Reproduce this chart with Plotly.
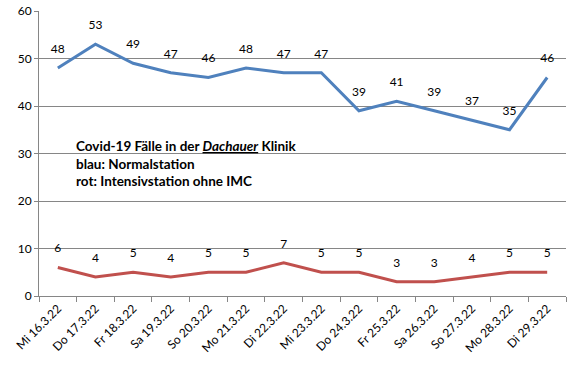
import plotly.graph_objects as go

dates = ["Mi 16.3.22", "Do 17.3.22", "Fr 18.3.22", "Sa 19.3.22", "So 20.3.22", "Mo 21.3.22",
         "Di 22.3.22", "Mi 23.3.22", "Do 24.3.22", "Fr 25.3.22", "Sa 26.3.22", "So 27.3.22",
         "Mo 28.3.22", "Di 29.3.22"]
normal = [48, 53, 49, 47, 46, 48, 47, 47, 39, 41, 39, 37, 35, 46]
intensiv = [6, 4, 5, 4, 5, 5, 7, 5, 5, 3, 3, 4, 5, 5]
y_ticks = [0, 10, 20, 30, 40, 50, 60]

font_fam = "Lato, Open Sans, sans-serif"
fig = go.Figure()
for vals, col in ((normal, "#4F81BD"), (intensiv, "#C0504D")):
    fig.add_trace(go.Scatter(x=dates, y=vals, mode="lines+markers+text", text=[str(v) for v in vals],
                             textposition="top center",
                             textfont=dict(size=12, color="black", family=font_fam),
                             marker=dict(size=18, color="rgba(0,0,0,0)"),
                             line=dict(color=col, width=3), cliponaxis=False))

fig.add_annotation(
    xref="paper", yref="paper", x=0.067, y=0.56, xanchor="left", yanchor="top", align="left",
    showarrow=False,
    text=("<b>Covid-19 Fälle in der <i><span style='text-decoration:underline'>Dachauer</span></i> Klinik"
          "<br>blau: Normalstation<br>rot: Intensivstation ohne IMC</b>"),
    font=dict(size=13.5, color="black", family=font_fam),
)

fig.update_layout(
    width=574, height=377, showlegend=False,
    margin=dict(l=39, r=8, t=11, b=81, autoexpand=False),
    plot_bgcolor="white", paper_bgcolor="white",
    font=dict(family=font_fam, size=12, color="black"),
    xaxis=dict(type="category", range=[-0.5, len(dates) - 0.5], tickangle=-45, showgrid=False,
               showline=True, linecolor="#868686",
               ticks="outside", tickson="boundaries", ticklen=5, tickcolor="#868686",
               tickfont=dict(size=12), automargin=False),
    yaxis=dict(range=[0, 60], tickmode="array", tickvals=y_ticks, showgrid=True,
               gridcolor="#868686", gridwidth=1,
               showline=True, linecolor="#868686", ticks="outside", ticklen=4, tickcolor="#868686",
               zeroline=False, tickfont=dict(size=12), automargin=False),
)
# remove the browser's default 8px body margin so the figure sits at the window origin
fig.write_html("out.html", post_script="document.body.style.margin='0';",
               config={"displayModeBar": False})
